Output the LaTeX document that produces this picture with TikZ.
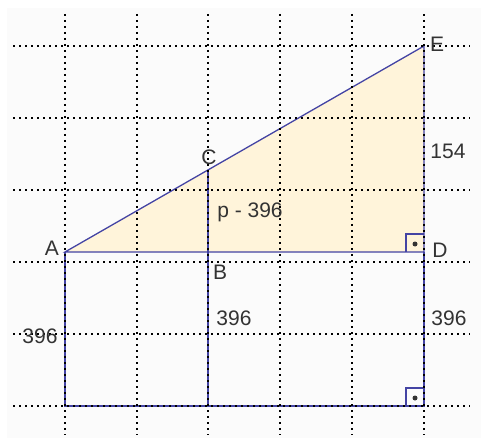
\documentclass[tikz,border=0pt]{standalone}
\usepackage{fontspec}
\setmainfont{Liberation Sans}
\usepackage{tikz}
\usetikzlibrary{positioning}
\definecolor{lineblue}{RGB}{68,68,164}
\definecolor{areafill}{RGB}{255,244,218}
\definecolor{labelgray}{RGB}{51,51,51}
\definecolor{paper}{RGB}{251,251,251}

\begin{document}
\begin{tikzpicture}[x=1pt, y=-1pt,
    gridline/.style={draw=black, line width=2pt, dash pattern=on 2pt off 4pt},
    edge/.style={draw=lineblue, line width=1.3pt},
    lbl/.style={anchor=base, text=labelgray, inner sep=0pt, font=\fontsize{21}{24}\selectfont}
]
\useasboundingbox (0,0) rectangle (481,438);
\fill[white] (0,0) rectangle (481,438);
\fill[paper] (7,8) rectangle (481,438);

\coordinate (A) at (65,252);
\coordinate (B) at (208,252);
\coordinate (C) at (208,170);
\coordinate (D) at (424,252);
\coordinate (E) at (424,46);
\coordinate (F) at (65,406);
\coordinate (G) at (208,406);
\coordinate (H) at (424,406);

% triangle and rectangle
\fill[areafill] (A) -- (E) -- (D) -- cycle;
\draw[edge] (A) -- (E) -- (D) -- cycle;
\draw[edge] (A) -- (F) -- (H) -- (D);
\draw[edge] (C) -- (G);

% right angles
\draw[edge] (406,252) -- (406,234) -- (424,234);
\fill[labelgray] (415,244) circle (2.5);
\draw[edge] (406,406) -- (406,388) -- (424,388);
\fill[labelgray] (415,398) circle (2.5);

% grid
\foreach \x in {65,137,208,280,352,424}
    \draw[gridline] (\x,14) -- (\x,435);
\foreach \y in {46,118,190,262,334,406}
    \draw[gridline] (13,\y) -- (470,\y);

\node[lbl] (lA) at (52,255) {A};
\node[lbl] (lB) at (220,279) {B};
\node[lbl] (lC) at (209,165) {C};
\node[lbl] (lD) at (440,257) {D};
\node[lbl] (lE) at (437,52) {E};
\node[lbl] (side) at (448,159) {154};
\node[lbl] (diff) at (250,218) {p - 396};
\node[lbl] (left) at (40,343) {396};
\node[lbl] (mid) at (234,325) {396};
\node[lbl] (right) at (449,325) {396};
\end{tikzpicture}
\end{document}
